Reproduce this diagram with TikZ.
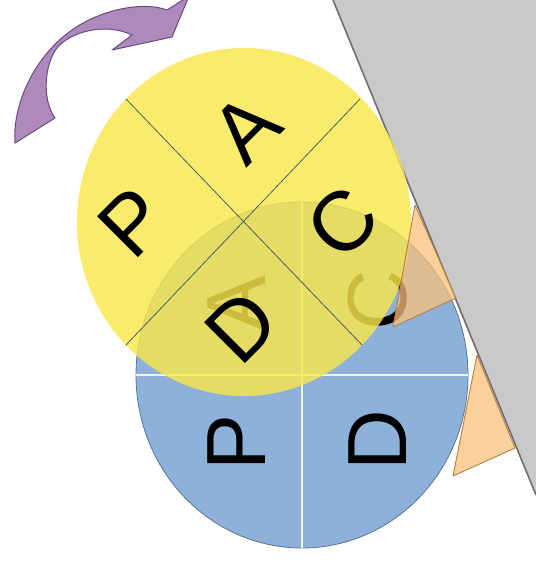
\documentclass[tikz,border=0pt]{standalone}
\usepackage{fontspec}
\setmainfont{Liberation Sans}
\definecolor{slopegray}{HTML}{C9C9C9}
\definecolor{slopeedge}{HTML}{6E6E6E}
\definecolor{wheelblue}{HTML}{8DB1DA}
\definecolor{blueedge}{HTML}{5A7494}
\definecolor{bluediv}{HTML}{F4F4DC}
\definecolor{wheelyellow}{HTML}{F8E64C}
\definecolor{yellowdiv}{HTML}{4E5E68}
\definecolor{wedgeorange}{HTML}{FAC07A}
\definecolor{wedgeedge}{HTML}{B8803E}
\definecolor{arrowpurple}{HTML}{AE89BE}
\definecolor{arrowedge}{HTML}{684C7C}
\tikzset{
  letter/.style={font=\fontsize{84}{84}\selectfont, inner sep=0pt, text=black},
  wedge/.style={fill=wedgeorange, fill opacity=0.75, draw=wedgeedge, line width=0.9pt, line join=round},
}
\begin{document}
\begin{tikzpicture}[x=1pt,y=-1pt]
\useasboundingbox (0,0) rectangle (536,571);
% slope
\fill[slopegray] (333,0) -- (536,0) -- (536,495) -- cycle;
\draw[slopeedge, line width=1.6pt] (333,0) coordinate (s1) -- (536,495) coordinate (s2);
% blue wheel
\fill[wheelblue] (302,375) ellipse [x radius=166, y radius=173];
\draw[blueedge, line width=0.8pt] (302,375) ellipse [x radius=166, y radius=173];
\draw[bluediv, line width=1.2pt] (136,375) -- (468,375);
\draw[bluediv, line width=1.2pt] (302,202) -- (302,548);
\node[letter, rotate=90] (bA) at (237,303) {A};
\node[letter, rotate=90] (bC) at (378,300) {C};
\node[letter, rotate=90] (bP) at (237,442) {P};
\node[letter, rotate=90] (bD) at (378,440) {D};
% yellow wheel
\fill[wheelyellow, fill opacity=0.82] (244,222) ellipse [x radius=167, y radius=174];
\draw[yellowdiv, line width=0.8pt] (126,99) -- (362,345);
\draw[yellowdiv, line width=0.8pt] (360,99) -- (126,345);
\node[letter, rotate=45] (yA) at (246,128) {A};
\node[letter, rotate=45] (yP) at (133,222) {P};
\node[letter, rotate=45] (yC) at (342,223) {C};
\node[letter, rotate=45] (yD) at (242,327) {D};
% wedges
\draw[wedge] (415,205) -- (456,298) -- (393,327) -- cycle;
\draw[wedge] (477,355) -- (515,448) -- (453,476) -- cycle;
% rotation arrow
\draw[fill=arrowpurple, draw=arrowedge, line width=1pt, line join=round]
  (15,143) .. controls (12,105) and (35,50) .. (83,23)
  .. controls (110,8) and (145,2) .. (167,10)
  -- (189,-4) -- (172,37) -- (112,50) -- (132,35)
  .. controls (105,22) and (70,32) .. (57,48)
  .. controls (44,65) and (42,100) .. (55,118) -- cycle;
\end{tikzpicture}
\end{document}
